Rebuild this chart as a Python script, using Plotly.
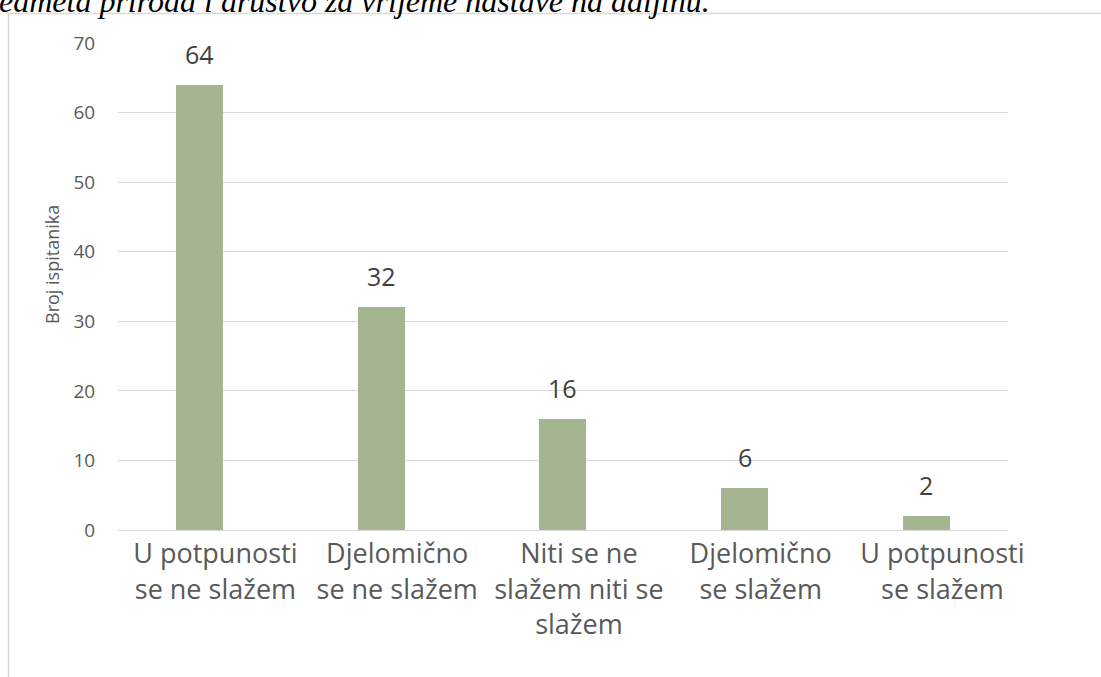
import plotly.graph_objects as go

categories = ["U potpunosti<br>se ne slažem", "Djelomično<br>se ne slažem",
              "Niti se ne<br>slažem niti se<br>slažem", "Djelomično<br>se slažem",
              "U potpunosti<br>se slažem"]
values = [64, 32, 16, 6, 2]
y_ticks = [0, 10, 20, 30, 40, 50, 60, 70]
y_title = "Broj ispitanika"
top_text = "edmeta priroda i društvo za vrijeme nastave na daljinu."

W, H = 1101, 677
L, R, T, B = 118, 1008, 43, 530

def px(x):
    return (x - L) / (R - L)

def py(y):
    return (B - y) / (B - T)

xs = list(range(len(categories)))
BAR_W = 0.259
SHIFT = 0.088  # bars sit slightly left of the category centre

fig = go.Figure()
fig.add_trace(go.Bar(
    x=xs, y=values, width=BAR_W, offset=-(BAR_W / 2 + SHIFT),
    marker=dict(color="#A5B592", line=dict(width=0)),
    hoverinfo="skip",
))

annotations = []
for xi, v in zip(xs, values):
    annotations.append(dict(
        x=xi - SHIFT, y=v, xref="x", yref="y", text=str(v), showarrow=False,
        yanchor="bottom", yshift=12,
        font=dict(family="Open Sans", size=25, color="#404040"),
    ))
annotations.append(dict(
    x=px(52), y=py(265), xref="paper", yref="paper", text=y_title,
    textangle=-90, showarrow=False, xanchor="center", yanchor="middle",
    font=dict(family="Open Sans", size=18, color="#595959"),
))
annotations.append(dict(
    x=px(-3), y=py(21), xref="paper", yref="paper", text=top_text,
    showarrow=False, xanchor="left", yanchor="bottom",
    font=dict(family="Liberation Serif", size=32, color="#000000", style="italic"),
))

shapes = [
    dict(type="line", xref="paper", yref="paper", x0=px(8.5), x1=px(8.5),
         y0=py(13.5), y1=py(700), line=dict(color="#d9d9d9", width=1.5)),
    dict(type="line", xref="paper", yref="paper", x0=px(8.5), x1=px(1110),
         y0=py(13.5), y1=py(13.5), line=dict(color="#d9d9d9", width=1.5)),
]

fig.update_layout(
    width=W, height=H,
    margin=dict(l=L, r=W - R, t=T, b=H - B, pad=0),
    paper_bgcolor="white", plot_bgcolor="white",
    showlegend=False,
    annotations=annotations,
    shapes=shapes,
    bargap=0,
    xaxis=dict(
        range=[-0.536, 4.361], tickvals=xs, ticktext=categories,
        showgrid=False, zeroline=False, showline=False,
        ticks="outside", ticklen=0, tickcolor="rgba(0,0,0,0)",
        tickfont=dict(family="Open Sans", size=27, color="#595959"),
        fixedrange=True,
    ),
    yaxis=dict(
        range=[0, 70], tickvals=y_ticks,
        showgrid=True, gridcolor="#d9d9d9", gridwidth=1,
        zeroline=True, zerolinecolor="#d9d9d9", zerolinewidth=1,
        showline=False,
        ticks="outside", ticklen=18, tickcolor="rgba(0,0,0,0)",
        tickfont=dict(family="Open Sans", size=19, color="#595959"),
        fixedrange=True,
    ),
)

fig.write_html("out.html", config=dict(displayModeBar=False))
